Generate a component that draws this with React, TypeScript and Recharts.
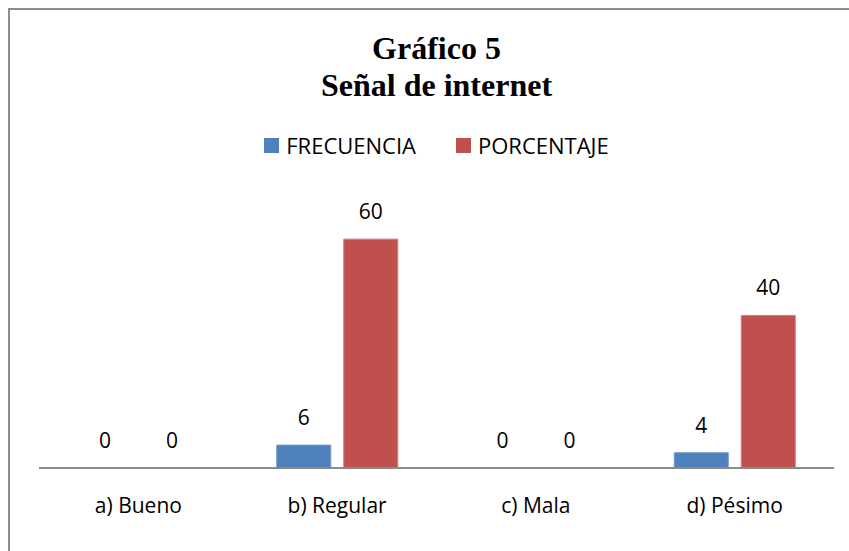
import { Bar, BarChart, Legend, XAxis, YAxis } from "recharts";

const categories = ["a) Bueno", "b) Regular", "c) Mala", "d) Pésimo"];
const frecuencia = [0, 6, 0, 4];
const porcentaje = [0, 60, 0, 40];
const seriesNames = ["FRECUENCIA", "PORCENTAJE"];

const data = categories.map((name, i) => ({
  name,
  frecuencia: frecuencia[i],
  porcentaje: porcentaje[i],
}));

const BLUE = "#4F81BD";
const RED = "#C0504D";
const FONT = "'Open Sans', sans-serif";

function renderLegend() {
  const items = [
    { label: seriesNames[0], color: BLUE },
    { label: seriesNames[1], color: RED },
  ];
  return (
    <div style={{ display: "flex", justifyContent: "center", alignItems: "center", fontFamily: FONT, fontSize: 22, lineHeight: "22px", color: "#000" }}>
      {items.map((it, i) => (
        <div key={it.label} style={{ display: "flex", alignItems: "center", marginLeft: i ? 40 : 0 }}>
          <span style={{ width: 15, height: 15, background: it.color, marginRight: 7, display: "inline-block" }} />
          <span>{it.label}</span>
        </div>
      ))}
    </div>
  );
}

function renderValue(props: any) {
  const { x, y, width, value, index } = props;
  return (
    <text
      key={index}
      x={Number(x) + Number(width) / 2}
      y={Number(y) - 20}
      textAnchor="middle"
      fill="#000"
      fontSize={21}
      fontFamily={FONT}
    >
      {value}
    </text>
  );
}

export default function App() {
  return (
    <div
      style={{
        position: "fixed",
        top: 8,
        left: 8,
        width: 841,
        height: 543,
        overflow: "hidden",
        boxSizing: "border-box",
        borderTop: "2px solid #8c8c8c",
        borderLeft: "2px solid #8c8c8c",
        background: "#fff",
      }}
    >
      <div
        style={{
          position: "absolute",
          top: 20,
          left: 29,
          width: 795,
          textAlign: "center",
          fontFamily: "'Liberation Serif', 'Times New Roman', serif",
          fontWeight: "bold",
          fontSize: 32,
          lineHeight: "37px",
          color: "#000",
          zIndex: 2,
        }}
      >
        Gráfico 5
        <br />
        Señal de internet
      </div>
      <BarChart
        width={839}
        height={541}
        data={data}
        margin={{ top: 191, right: 15, bottom: 0, left: 29 }}
        barSize={54}
        barGap={13}
        style={{ outline: "none" }}
      >
        <Legend
          content={renderLegend}
          wrapperStyle={{ position: "absolute", top: 124, left: 29, width: 795 }}
        />
        <YAxis hide domain={[0, 70]} />
        <XAxis
          dataKey="name"
          height={61}
          tickLine={false}
          tickSize={0}
          tickMargin={30}
          axisLine={{ stroke: "#8a8a8a", strokeWidth: 2 }}
          tick={{ fill: "#000", fontSize: 21, fontFamily: FONT }}
          interval={0}
        />
        <Bar dataKey="frecuencia" name={seriesNames[0]} fill={BLUE} stroke="#6f97c8" strokeWidth={1} minPointSize={0.01} isAnimationActive={false} label={renderValue} />
        <Bar dataKey="porcentaje" name={seriesNames[1]} fill={RED} stroke="#d27a78" strokeWidth={1} minPointSize={0.01} isAnimationActive={false} label={renderValue} />
      </BarChart>
    </div>
  );
}
